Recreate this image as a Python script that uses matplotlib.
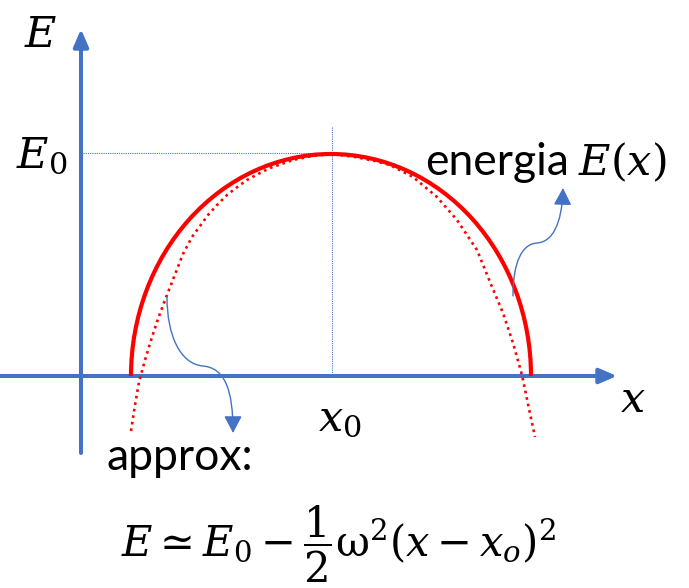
import matplotlib.pyplot as plt
from matplotlib.path import Path
from matplotlib.patches import FancyArrowPatch, Arc

plt.rcParams['mathtext.fontset'] = 'dejavuserif'

BLUE = '#4472C4'
RED = '#FF0000'

# energy curve E(x): an arc between its two zeros, peaking at E0
x_zeros = [50, 450]
x0 = 251
E0 = 222

# parabolic approximation around the maximum
approx_x = [50, 54, 58, 64, 71, 77, 84, 93, 102, 111, 119, 127, 136, 146, 155, 166,
            177, 189, 212, 231, 251, 274, 294, 309, 332, 356, 376, 396, 409, 422,
            432, 441, 447, 454]
approx_E = [-55, -29, -6, 16, 39, 57, 76, 99, 122, 139, 150, 161, 171, 181, 188, 196,
            202, 208, 216, 220, 222, 219, 215, 211, 199, 179, 156, 126, 94, 63,
            33, 1, -28, -61]

fig = plt.figure(figsize=(6.89, 5.88), dpi=100)
ax = fig.add_axes([0, 0, 1, 1])
ax.set_xlim(-81, 608)
ax.set_ylim(-212, 376)
ax.axis('off')

# axes with arrow heads
axis_style = dict(arrowstyle='-|>,head_length=1.05,head_width=0.45', color=BLUE,
                  lw=2.9, shrinkA=0, shrinkB=0, mutation_scale=10)
ax.annotate('', xy=(536, 0), xytext=(-81, 0), arrowprops=axis_style, zorder=1)
ax.annotate('', xy=(0, 347), xytext=(0, -77), arrowprops=axis_style, zorder=1)

# guide lines to the maximum
ax.plot([2, x0], [E0 + 1, E0 + 1], color=BLUE, lw=0.8, ls=(0, (1, 1)), zorder=2)
ax.plot([x0, x0], [249, 0], color=BLUE, lw=0.8, ls=(0, (1, 1)), zorder=2)

centre = (x_zeros[0] + x_zeros[1]) / 2
ax.add_patch(Arc((centre, 0), x_zeros[1] - x_zeros[0], 2 * E0, theta1=0, theta2=180,
                 color=RED, lw=3.0, capstyle='butt', zorder=4))
ax.plot(approx_x, approx_E, color=RED, lw=1.9, ls=(0, (1.0, 1.5)),
        dash_capstyle='butt', zorder=3)

# curved pointers to the labels
codes = [Path.MOVETO, Path.CURVE4, Path.CURVE4, Path.CURVE4,
         Path.CURVE4, Path.CURVE4, Path.CURVE4]
arrow_style = '-|>,head_length=1.05,head_width=0.55'
p1 = Path([(432, 80), (432, 114), (441, 132), (456, 133),
           (471, 134), (481, 151), (482, 188)], codes)
ax.add_patch(FancyArrowPatch(path=p1, arrowstyle=arrow_style, mutation_scale=10,
                             color=BLUE, lw=1.0, zorder=5))
p2 = Path([(86, 79), (86, 41), (99, 12), (122, 10),
           (144, 8), (152, -14), (152, -57)], codes)
ax.add_patch(FancyArrowPatch(path=p2, arrowstyle=arrow_style, mutation_scale=10,
                             color=BLUE, lw=1.0, zorder=5))

# labels
ax.text(-40, 329, r'$E$', fontsize=31, ha='center', va='baseline')
ax.text(-14, 209, r'$E_0$', fontsize=31, ha='right', va='baseline')
ax.text(344, 201, 'energia', fontsize=32, family='Lato', ha='left', va='baseline')
ax.text(497, 201, r'$E(x)$', fontsize=31, ha='left', va='baseline')
ax.text(552, -36, r'$x$', fontsize=31, ha='center', va='baseline')
ax.text(237, -54, r'$x_0$', fontsize=31, ha='left', va='baseline')
ax.text(25, -94, 'approx:', fontsize=32, family='Lato', ha='left', va='baseline')
ax.text(40, -181, r'$E \simeq E_0 - \dfrac{1}{2}\mathrm{\omega}^2(x - x_o)^2$',
        fontsize=30, ha='left', va='baseline')

fig.savefig('out.png', dpi=100)
